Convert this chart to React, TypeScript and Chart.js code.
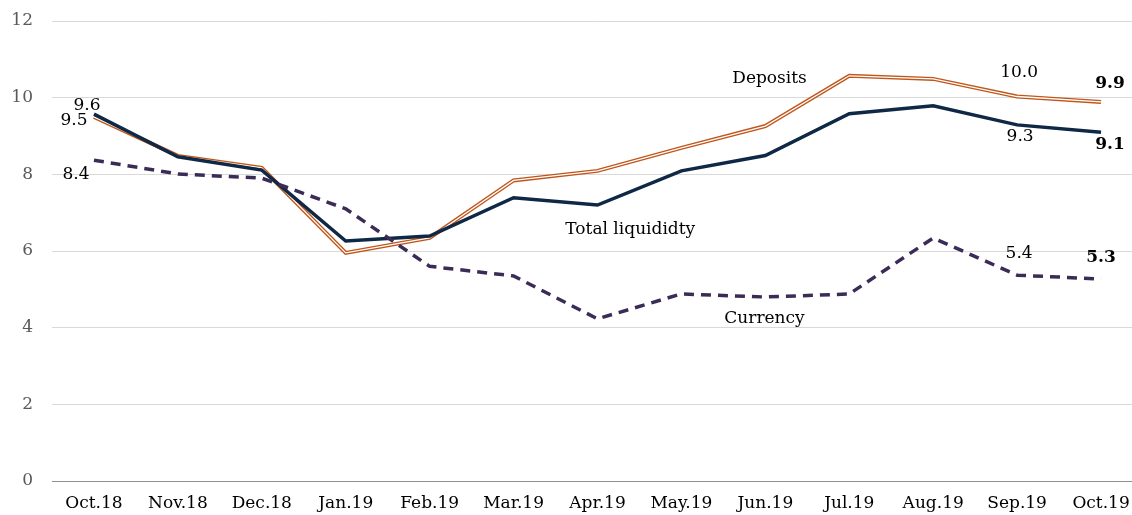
import React, { useEffect, useRef } from "react";
import { Chart, registerables } from "chart.js";

Chart.register(...registerables);

const categories = ["Oct.18", "Nov.18", "Dec.18", "Jan.19", "Feb.19", "Mar.19", "Apr.19", "May.19", "Jun.19", "Jul.19", "Aug.19", "Sep.19", "Oct.19"];
const totalLiquidity = [9.57, 8.46, 8.11, 6.26, 6.39, 7.39, 7.2, 8.09, 8.49, 9.58, 9.79, 9.29, 9.1];
const deposits = [9.5, 8.48, 8.17, 5.95, 6.34, 7.84, 8.09, 8.69, 9.26, 10.57, 10.49, 10.03, 9.89];
const currency = [8.37, 8.01, 7.9, 7.1, 5.6, 5.35, 4.23, 4.88, 4.8, 4.88, 6.34, 5.37, 5.27];
const yTicks = [0, 2, 4, 6, 8, 10, 12];

const FONT = "'DejaVu Serif', serif";
const FS = 17;

type PointLabel = { text: string; series: number[]; idx: number; dx: number; dy: number; bold?: boolean };
const pointLabels: PointLabel[] = [
  { text: "9.6", series: totalLiquidity, idx: 0, dx: -7, dy: -9 },
  { text: "9.5", series: deposits, idx: 0, dx: -20, dy: 4 },
  { text: "8.4", series: currency, idx: 0, dx: -18, dy: 14 },
  { text: "10.0", series: deposits, idx: 11, dx: 2, dy: -24 },
  { text: "9.9", series: deposits, idx: 12, dx: 9, dy: -18, bold: true },
  { text: "9.3", series: totalLiquidity, idx: 11, dx: 3, dy: 12 },
  { text: "9.1", series: totalLiquidity, idx: 12, dx: 9, dy: 12, bold: true },
  { text: "5.4", series: currency, idx: 11, dx: 2, dy: -22 },
  { text: "5.3", series: currency, idx: 12, dx: 0, dy: -21, bold: true },
];
const seriesNames = [
  { text: "Deposits", idx: 8.05, value: 10.51 },
  { text: "Total liquididty", idx: 6.39, value: 6.55 },
  { text: "Currency", idx: 7.99, value: 4.23 },
];

const labelPlugin = {
  id: "labels",
  afterDatasetsDraw(chart: any) {
    const { ctx, scales } = chart;
    const x = scales.x, y = scales.y;
    ctx.save();
    ctx.fillStyle = "#000";
    ctx.textAlign = "center";
    ctx.textBaseline = "middle";
    for (const l of pointLabels) {
      ctx.font = `${l.bold ? "bold " : ""}${FS}px ${FONT}`;
      ctx.fillText(l.text, x.getPixelForValue(l.idx) + l.dx, y.getPixelForValue(l.series[l.idx]) + l.dy);
    }
    ctx.font = `${FS}px ${FONT}`;
    for (const s of seriesNames) {
      ctx.fillText(s.text, x.getPixelForValue(s.idx), y.getPixelForValue(s.value));
    }
    ctx.restore();
  },
};

export default function App() {
  const ref = useRef<HTMLCanvasElement>(null);
  useEffect(() => {
    document.body.style.margin = "0";
    const chart = new Chart(ref.current!, {
      type: "line",
      data: {
        labels: categories,
        datasets: [
          { data: currency, borderColor: "#3b2c57", borderWidth: 3.5, borderDash: [10, 7], pointRadius: 0, tension: 0 },
          { data: totalLiquidity, borderColor: "#0f2846", borderWidth: 3.5, pointRadius: 0, tension: 0 },
          { data: deposits, borderColor: "#ffffff", borderWidth: 1.3, pointRadius: 0, tension: 0 },
          { data: deposits, borderColor: "#c0561a", borderWidth: 4, pointRadius: 0, tension: 0 },
        ],
      },
      options: {
        responsive: false,
        animation: false,
        layout: { padding: { top: 21, right: 2, left: 0, bottom: 0 } },
        plugins: { legend: { display: false }, tooltip: { enabled: false } },
        scales: {
          x: {
            offset: true,
            grid: { display: false, drawTicks: false },
            border: { color: "#8f8f8f", width: 1 },
            ticks: { color: "#000", font: { family: FONT, size: FS }, padding: 12, maxRotation: 0, autoSkip: false },
            afterFit(s: any) { s.height = 34; s.paddingLeft = 0; s.paddingRight = 0; },
          },
          y: {
            min: 0,
            max: 12,
            afterBuildTicks(s: any) { s.ticks = yTicks.map((v) => ({ value: v })); },
            grid: { color: "#d9d9d9", drawTicks: false },
            border: { display: false },
            ticks: { color: "#595959", font: { family: FONT, size: FS }, padding: 19 },
            afterFit(s: any) { s.width = 52; s.paddingTop = 0; s.paddingBottom = 0; },
          },
        },
      },
      plugins: [labelPlugin],
    });
    return () => chart.destroy();
  }, []);
  return (
    <div style={{ position: "fixed", left: 0, top: 0, width: 1132, height: 515, overflow: "hidden", background: "#fff" }}>
      <canvas ref={ref} width={1145} height={515} style={{ display: "block" }} />
    </div>
  );
}
